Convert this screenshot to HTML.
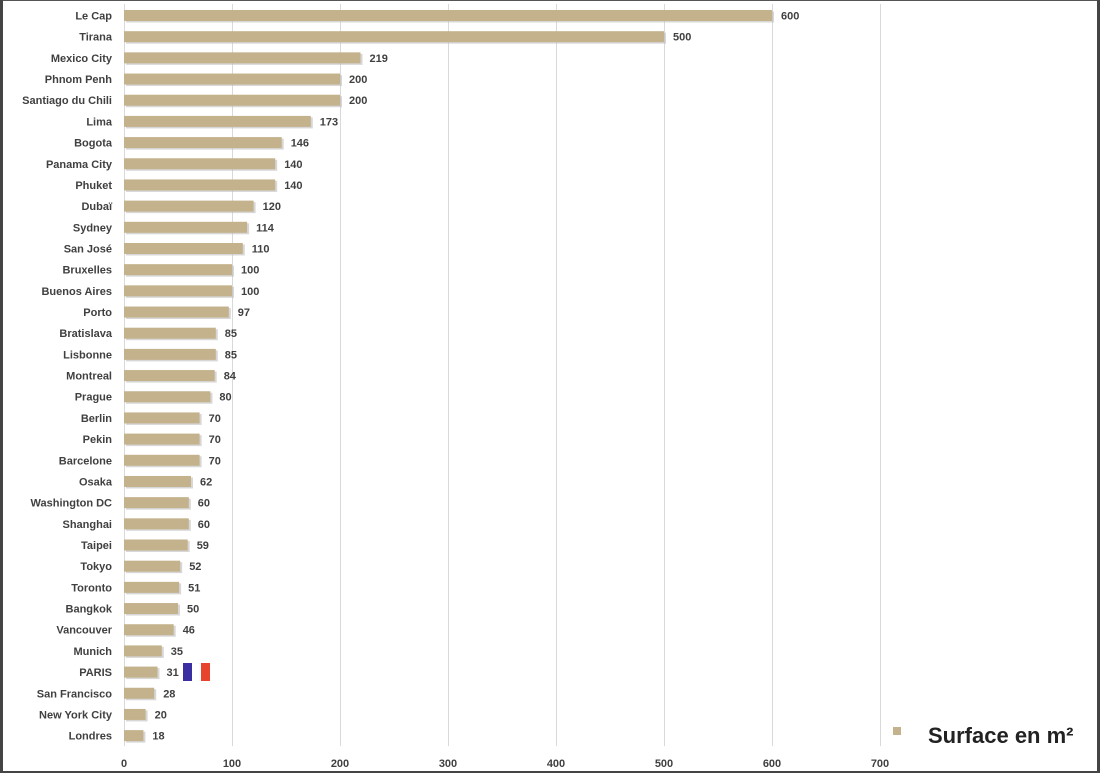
<!DOCTYPE html>
<html><head><meta charset="utf-8"><style>
html,body{margin:0;padding:0;background:#fff}
body{width:1100px;height:773px;overflow:hidden}
text{font-family:"Liberation Sans",sans-serif}
.l{font-size:11px;font-weight:bold;fill:#404040;text-anchor:end}
.v{font-size:11px;font-weight:bold;fill:#404040}
.s{fill:#bdbdbd;opacity:0.6}
.b{fill:#c4b28c}
</style></head><body>
<svg width="1100" height="773" xmlns="http://www.w3.org/2000/svg">
<rect x="0" y="0" width="1100" height="773" fill="#fff"/>
<g stroke="#d9d9d9" stroke-width="1">
<line x1="124.5" y1="4" x2="124.5" y2="746"/>
<line x1="232.5" y1="4" x2="232.5" y2="746"/>
<line x1="340.5" y1="4" x2="340.5" y2="746"/>
<line x1="448.5" y1="4" x2="448.5" y2="746"/>
<line x1="556.5" y1="4" x2="556.5" y2="746"/>
<line x1="664.5" y1="4" x2="664.5" y2="746"/>
<line x1="772.5" y1="4" x2="772.5" y2="746"/>
<line x1="880.5" y1="4" x2="880.5" y2="746"/>
</g>
<g transform="translate(0,15.5)"><rect class="s" x="126" y="-4" width="648" height="11"/><rect class="b" x="124" y="-5.5" width="648" height="11"/><text class="l" x="112" y="4">Le Cap</text><text class="v" x="781" y="4">600</text></g>
<g transform="translate(0,36.68)"><rect class="s" x="126" y="-4" width="540" height="11"/><rect class="b" x="124" y="-5.5" width="540" height="11"/><text class="l" x="112" y="4">Tirana</text><text class="v" x="673" y="4">500</text></g>
<g transform="translate(0,57.86)"><rect class="s" x="126" y="-4" width="236.5" height="11"/><rect class="b" x="124" y="-5.5" width="236.5" height="11"/><text class="l" x="112" y="4">Mexico City</text><text class="v" x="369.5" y="4">219</text></g>
<g transform="translate(0,79.04)"><rect class="s" x="126" y="-4" width="216" height="11"/><rect class="b" x="124" y="-5.5" width="216" height="11"/><text class="l" x="112" y="4">Phnom Penh</text><text class="v" x="349" y="4">200</text></g>
<g transform="translate(0,100.22)"><rect class="s" x="126" y="-4" width="216" height="11"/><rect class="b" x="124" y="-5.5" width="216" height="11"/><text class="l" x="112" y="4">Santiago du Chili</text><text class="v" x="349" y="4">200</text></g>
<g transform="translate(0,121.4)"><rect class="s" x="126" y="-4" width="186.8" height="11"/><rect class="b" x="124" y="-5.5" width="186.8" height="11"/><text class="l" x="112" y="4">Lima</text><text class="v" x="319.8" y="4">173</text></g>
<g transform="translate(0,142.58)"><rect class="s" x="126" y="-4" width="157.7" height="11"/><rect class="b" x="124" y="-5.5" width="157.7" height="11"/><text class="l" x="112" y="4">Bogota</text><text class="v" x="290.7" y="4">146</text></g>
<g transform="translate(0,163.76)"><rect class="s" x="126" y="-4" width="151.2" height="11"/><rect class="b" x="124" y="-5.5" width="151.2" height="11"/><text class="l" x="112" y="4">Panama City</text><text class="v" x="284.2" y="4">140</text></g>
<g transform="translate(0,184.94)"><rect class="s" x="126" y="-4" width="151.2" height="11"/><rect class="b" x="124" y="-5.5" width="151.2" height="11"/><text class="l" x="112" y="4">Phuket</text><text class="v" x="284.2" y="4">140</text></g>
<g transform="translate(0,206.12)"><rect class="s" x="126" y="-4" width="129.6" height="11"/><rect class="b" x="124" y="-5.5" width="129.6" height="11"/><text class="l" x="112" y="4">Dubaï</text><text class="v" x="262.6" y="4">120</text></g>
<g transform="translate(0,227.3)"><rect class="s" x="126" y="-4" width="123.1" height="11"/><rect class="b" x="124" y="-5.5" width="123.1" height="11"/><text class="l" x="112" y="4">Sydney</text><text class="v" x="256.1" y="4">114</text></g>
<g transform="translate(0,248.48)"><rect class="s" x="126" y="-4" width="118.8" height="11"/><rect class="b" x="124" y="-5.5" width="118.8" height="11"/><text class="l" x="112" y="4">San José</text><text class="v" x="251.8" y="4">110</text></g>
<g transform="translate(0,269.66)"><rect class="s" x="126" y="-4" width="108" height="11"/><rect class="b" x="124" y="-5.5" width="108" height="11"/><text class="l" x="112" y="4">Bruxelles</text><text class="v" x="241" y="4">100</text></g>
<g transform="translate(0,290.84)"><rect class="s" x="126" y="-4" width="108" height="11"/><rect class="b" x="124" y="-5.5" width="108" height="11"/><text class="l" x="112" y="4">Buenos Aires</text><text class="v" x="241" y="4">100</text></g>
<g transform="translate(0,312.02)"><rect class="s" x="126" y="-4" width="104.8" height="11"/><rect class="b" x="124" y="-5.5" width="104.8" height="11"/><text class="l" x="112" y="4">Porto</text><text class="v" x="237.8" y="4">97</text></g>
<g transform="translate(0,333.2)"><rect class="s" x="126" y="-4" width="91.8" height="11"/><rect class="b" x="124" y="-5.5" width="91.8" height="11"/><text class="l" x="112" y="4">Bratislava</text><text class="v" x="224.8" y="4">85</text></g>
<g transform="translate(0,354.38)"><rect class="s" x="126" y="-4" width="91.8" height="11"/><rect class="b" x="124" y="-5.5" width="91.8" height="11"/><text class="l" x="112" y="4">Lisbonne</text><text class="v" x="224.8" y="4">85</text></g>
<g transform="translate(0,375.56)"><rect class="s" x="126" y="-4" width="90.7" height="11"/><rect class="b" x="124" y="-5.5" width="90.7" height="11"/><text class="l" x="112" y="4">Montreal</text><text class="v" x="223.7" y="4">84</text></g>
<g transform="translate(0,396.74)"><rect class="s" x="126" y="-4" width="86.4" height="11"/><rect class="b" x="124" y="-5.5" width="86.4" height="11"/><text class="l" x="112" y="4">Prague</text><text class="v" x="219.4" y="4">80</text></g>
<g transform="translate(0,417.92)"><rect class="s" x="126" y="-4" width="75.6" height="11"/><rect class="b" x="124" y="-5.5" width="75.6" height="11"/><text class="l" x="112" y="4">Berlin</text><text class="v" x="208.6" y="4">70</text></g>
<g transform="translate(0,439.1)"><rect class="s" x="126" y="-4" width="75.6" height="11"/><rect class="b" x="124" y="-5.5" width="75.6" height="11"/><text class="l" x="112" y="4">Pekin</text><text class="v" x="208.6" y="4">70</text></g>
<g transform="translate(0,460.28)"><rect class="s" x="126" y="-4" width="75.6" height="11"/><rect class="b" x="124" y="-5.5" width="75.6" height="11"/><text class="l" x="112" y="4">Barcelone</text><text class="v" x="208.6" y="4">70</text></g>
<g transform="translate(0,481.46)"><rect class="s" x="126" y="-4" width="67" height="11"/><rect class="b" x="124" y="-5.5" width="67" height="11"/><text class="l" x="112" y="4">Osaka</text><text class="v" x="200" y="4">62</text></g>
<g transform="translate(0,502.64)"><rect class="s" x="126" y="-4" width="64.8" height="11"/><rect class="b" x="124" y="-5.5" width="64.8" height="11"/><text class="l" x="112" y="4">Washington DC</text><text class="v" x="197.8" y="4">60</text></g>
<g transform="translate(0,523.82)"><rect class="s" x="126" y="-4" width="64.8" height="11"/><rect class="b" x="124" y="-5.5" width="64.8" height="11"/><text class="l" x="112" y="4">Shanghai</text><text class="v" x="197.8" y="4">60</text></g>
<g transform="translate(0,545)"><rect class="s" x="126" y="-4" width="63.7" height="11"/><rect class="b" x="124" y="-5.5" width="63.7" height="11"/><text class="l" x="112" y="4">Taipei</text><text class="v" x="196.7" y="4">59</text></g>
<g transform="translate(0,566.18)"><rect class="s" x="126" y="-4" width="56.2" height="11"/><rect class="b" x="124" y="-5.5" width="56.2" height="11"/><text class="l" x="112" y="4">Tokyo</text><text class="v" x="189.2" y="4">52</text></g>
<g transform="translate(0,587.36)"><rect class="s" x="126" y="-4" width="55.1" height="11"/><rect class="b" x="124" y="-5.5" width="55.1" height="11"/><text class="l" x="112" y="4">Toronto</text><text class="v" x="188.1" y="4">51</text></g>
<g transform="translate(0,608.54)"><rect class="s" x="126" y="-4" width="54" height="11"/><rect class="b" x="124" y="-5.5" width="54" height="11"/><text class="l" x="112" y="4">Bangkok</text><text class="v" x="187" y="4">50</text></g>
<g transform="translate(0,629.72)"><rect class="s" x="126" y="-4" width="49.7" height="11"/><rect class="b" x="124" y="-5.5" width="49.7" height="11"/><text class="l" x="112" y="4">Vancouver</text><text class="v" x="182.7" y="4">46</text></g>
<g transform="translate(0,650.9)"><rect class="s" x="126" y="-4" width="37.8" height="11"/><rect class="b" x="124" y="-5.5" width="37.8" height="11"/><text class="l" x="112" y="4">Munich</text><text class="v" x="170.8" y="4">35</text></g>
<g transform="translate(0,672.08)"><rect class="s" x="126" y="-4" width="33.5" height="11"/><rect class="b" x="124" y="-5.5" width="33.5" height="11"/><text class="l" x="112" y="4">PARIS</text><text class="v" x="166.5" y="4">31</text></g>
<g transform="translate(0,693.26)"><rect class="s" x="126" y="-4" width="30.2" height="11"/><rect class="b" x="124" y="-5.5" width="30.2" height="11"/><text class="l" x="112" y="4">San Francisco</text><text class="v" x="163.2" y="4">28</text></g>
<g transform="translate(0,714.44)"><rect class="s" x="126" y="-4" width="21.6" height="11"/><rect class="b" x="124" y="-5.5" width="21.6" height="11"/><text class="l" x="112" y="4">New York City</text><text class="v" x="154.6" y="4">20</text></g>
<g transform="translate(0,735.62)"><rect class="s" x="126" y="-4" width="19.4" height="11"/><rect class="b" x="124" y="-5.5" width="19.4" height="11"/><text class="l" x="112" y="4">Londres</text><text class="v" x="152.4" y="4">18</text></g>
<g font-size="11" fill="#404040" text-anchor="middle" font-weight="bold">
<text x="124" y="767">0</text><text x="232" y="767">100</text><text x="340" y="767">200</text><text x="448" y="767">300</text><text x="556" y="767">400</text><text x="664" y="767">500</text><text x="772" y="767">600</text><text x="880" y="767">700</text>
</g>
<rect x="183" y="663" width="9" height="18" fill="#3b2ea3"/>
<rect x="192" y="663" width="9" height="18" fill="#fff"/>
<rect x="201" y="663" width="9" height="18" fill="#e8432c"/>
<rect x="893" y="727" width="8" height="8" fill="#c4b28c"/>
<text x="928" y="743" font-size="22" font-weight="bold" fill="#222">Surface en m²</text>
<rect x="0" y="0" width="1100" height="1" fill="#555"/>
<rect x="0" y="0" width="3" height="773" fill="#444"/>
<rect x="1097" y="0" width="3" height="773" fill="#444"/>
<rect x="0" y="771" width="1100" height="2" fill="#444"/>
</svg>
</body></html>
